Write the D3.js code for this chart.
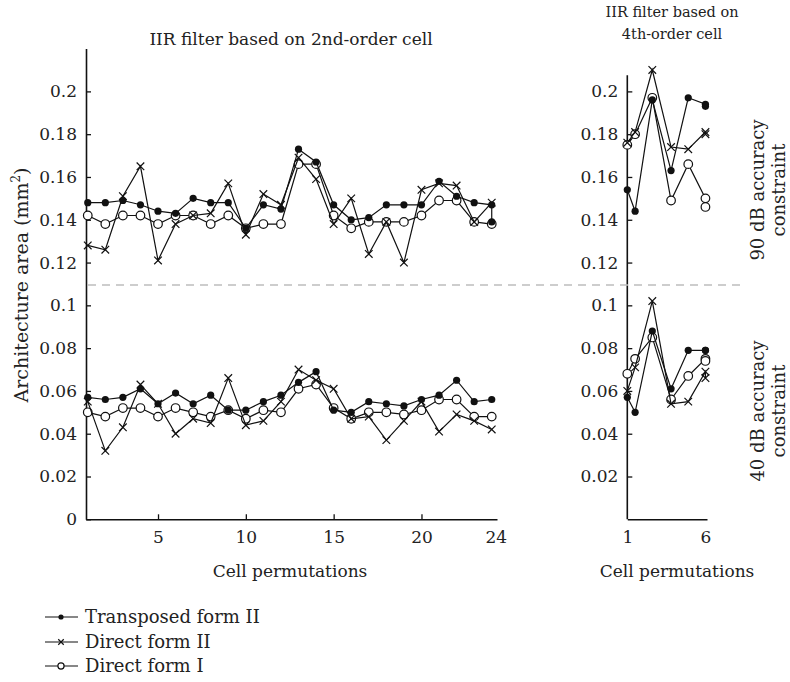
<!DOCTYPE html>
<html>
<head>
<meta charset="utf-8">
<script src="https://cdn.jsdelivr.net/npm/d3@7"></script>
<style>
  html, body { margin: 0; padding: 0; background: #fff; }
  svg { display: block; }
  text { font-family: "DejaVu Serif", "Liberation Serif", serif; fill: #222; }
</style>
</head>
<body>
<svg id="chart" width="790" height="682"></svg>
<script>
// ---------------- DATA ----------------
const leftX = [1,2,3,4,5,6,7,8,9,10,11,12,13,14,15,16,17,18,19,20,21,22,23,24];
const leftXExtra = [1,2,3,4,5,6,7,8,9,10,11,12,13,14,15,16,17,18,19,20,21,22,23,24,24];

// 90 dB accuracy (upper group), 2nd-order cell
const tfTopLeft  = [0.148,0.148,0.149,0.147,0.144,0.143,0.150,0.148,0.148,0.136,0.147,0.145,0.173,0.167,0.147,0.140,0.141,0.147,0.147,0.147,0.158,0.151,0.148,0.147,0.139];
const df2TopLeft = [0.128,0.126,0.151,0.165,0.121,0.138,0.142,0.143,0.157,0.133,0.152,0.147,0.169,0.159,0.138,0.150,0.124,0.139,0.120,0.154,0.157,0.156,0.139,0.148];
const df1TopLeft = [0.142,0.138,0.142,0.142,0.138,0.142,0.142,0.138,0.142,0.136,0.138,0.138,0.166,0.166,0.142,0.136,0.139,0.139,0.139,0.142,0.149,0.149,0.139,0.138];

// 40 dB accuracy (lower group), 2nd-order cell
const tfBotLeft  = [0.057,0.056,0.057,0.061,0.054,0.059,0.054,0.058,0.051,0.051,0.055,0.058,0.064,0.069,0.051,0.050,0.055,0.054,0.053,0.056,0.058,0.065,0.055,0.056];
const df2BotLeft = [0.055,0.032,0.043,0.063,0.054,0.040,0.047,0.045,0.066,0.044,0.046,0.055,0.070,0.065,0.061,0.047,0.048,0.037,0.046,0.055,0.041,0.049,0.046,0.042];
const df1BotLeft = [0.050,0.048,0.052,0.052,0.048,0.052,0.050,0.048,0.051,0.047,0.051,0.050,0.061,0.063,0.052,0.047,0.050,0.050,0.049,0.051,0.056,0.056,0.048,0.048];

// 4th-order cell
const rightX = [1,1.5,2.6,3.8,4.9,6,6];
const tfTopRight  = [0.154,0.144,0.196,0.163,0.197,0.194,0.193];
const df2TopRight = [0.176,0.181,0.210,0.174,0.173,0.181,0.180];
const df1TopRight = [0.175,0.180,0.197,0.149,0.166,0.150,0.146];
const tfBotRight  = [0.057,0.050,0.088,0.061,0.079,0.079,0.079];
const df2BotRight = [0.060,0.071,0.102,0.054,0.055,0.069,0.066];
const df1BotRight = [0.068,0.075,0.085,0.056,0.067,0.075,0.074];

const leftYTicks  = [0,0.02,0.04,0.06,0.08,0.1,0.12,0.14,0.16,0.18,0.2];
const rightYTicks = [0.02,0.04,0.06,0.08,0.1,0.12,0.14,0.16,0.18,0.2];
const leftXTicks  = [5,10,15,20,24];
const rightXTicks = [1,6];
const separator = 0.1095;

const seriesNames = ["Transposed form II","Direct form II","Direct form I"];
const seriesMarks = ["dot","cross","circle"];

// ---------------- DRAW ----------------
const FONT = '"DejaVu Serif", "Liberation Serif", serif';
const svg = d3.select("#chart");
const y = d3.scaleLinear().domain([0, 0.22]).range([519.3, 48.6]);
const yR = d3.scaleLinear().domain([0, 0.22]).range([519.3, 48.6]);
const xL = d3.scaleLinear().domain([0.9, 24.3]).range([86, 497]);
const xR = d3.scaleLinear().domain([1, 6.1]).range([627.3, 707]);
const fmt = d => d === 0 ? "0" : String(+d.toFixed(2));
const FS = 17;

// left y axis
const gYL = svg.append("g").attr("transform", `translate(${xL(0.9)},0)`)
  .call(d3.axisLeft(y).tickValues(leftYTicks).tickFormat(fmt).tickSizeInner(-5).tickSizeOuter(0).tickPadding(9));
// right y axis
const gYR = svg.append("g").attr("transform", `translate(${xR(1)},0)`)
  .call(d3.axisLeft(yR).tickValues(rightYTicks).tickFormat(fmt).tickSizeInner(-5).tickSizeOuter(0).tickPadding(9));
gYR.select(".domain").attr("d", `M0,${yR(0)}V${yR(0.2075)}`);
// left x axis
const gXL = svg.append("g").attr("transform", `translate(0,${y(0)})`)
  .call(d3.axisBottom(xL).tickValues(leftXTicks).tickFormat(d3.format("d")).tickSizeInner(-5).tickSizeOuter(0).tickPadding(12));
gXL.selectAll(".tick").filter(d => d === 24).select("line").remove();
gXL.selectAll(".tick").filter(d => d === 24).select("text").attr("dx", 4);
// right x axis
const gXR = svg.append("g").attr("transform", `translate(0,${y(0)})`)
  .call(d3.axisBottom(xR).tickValues(rightXTicks).tickFormat(d3.format("d")).tickSizeInner(0).tickSizeOuter(0).tickPadding(12));

[gYL, gYR, gXL, gXR].forEach(g => {
  g.attr("font-family", FONT);
  g.selectAll(".domain").attr("stroke", "#111").attr("stroke-width", 1.6);
  g.selectAll(".tick line").attr("stroke", "#111").attr("stroke-width", 1.3);
  g.selectAll("text").attr("font-size", FS).attr("fill", "#222");
});

// separator dashed line
svg.append("line")
  .attr("x1", xL(0.9) + 2).attr("x2", 746)
  .attr("y1", y(separator)).attr("y2", y(separator))
  .attr("stroke", "#bdbdbd").attr("stroke-width", 1.6).attr("stroke-dasharray", "8,6");

function drawMarker(g, type, cx, cy, k) {
  k = k || 1;
  if (type === "dot") {
    g.append("circle").attr("cx", cx).attr("cy", cy).attr("r", 3.6 * k).attr("fill", "#111");
  } else if (type === "circle") {
    g.append("circle").attr("cx", cx).attr("cy", cy).attr("r", 4.3 * k).attr("fill", "#fff").attr("stroke", "#111").attr("stroke-width", 1.2);
  } else {
    const s = 3.8 * k;
    g.append("path").attr("d", `M${cx-s},${cy-s}L${cx+s},${cy+s}M${cx-s},${cy+s}L${cx+s},${cy-s}`)
      .attr("stroke", "#111").attr("stroke-width", 1.2).attr("fill", "none");
  }
}

function drawSeries(xs, vals, xScale, yScale, type) {
  const g = svg.append("g");
  const pts = vals.map((v, i) => [xScale(xs[i]), yScale(v)]);
  g.append("path").attr("d", d3.line()(pts)).attr("fill", "none").attr("stroke", "#111").attr("stroke-width", 1.2);
  pts.forEach(p => drawMarker(g, type, p[0], p[1]));
}

// draw order: circles, crosses, dots (dots on top)
drawSeries(leftX, df1TopLeft, xL, y, "circle");
drawSeries(leftX, df1BotLeft, xL, y, "circle");
drawSeries(rightX, df1TopRight, xR, yR, "circle");
drawSeries(rightX, df1BotRight, xR, yR, "circle");
drawSeries(leftX, df2TopLeft, xL, y, "cross");
drawSeries(leftX, df2BotLeft, xL, y, "cross");
drawSeries(rightX, df2TopRight, xR, yR, "cross");
drawSeries(rightX, df2BotRight, xR, yR, "cross");
drawSeries(leftXExtra, tfTopLeft, xL, y, "dot");
drawSeries(leftX, tfBotLeft, xL, y, "dot");
drawSeries(rightX, tfTopRight, xR, yR, "dot");
drawSeries(rightX, tfBotRight, xR, yR, "dot");

// titles
svg.append("text").attr("x", 291).attr("y", 45).attr("text-anchor", "middle").attr("font-size", 17)
  .text("IIR filter based on 2nd-order cell");
svg.append("text").attr("x", 672).attr("y", 17).attr("text-anchor", "middle").attr("font-size", 14.5)
  .text("IIR filter based on");
svg.append("text").attr("x", 672).attr("y", 39).attr("text-anchor", "middle").attr("font-size", 14.5)
  .text("4th-order cell");

// x axis titles
const LS = 17;
svg.append("text").attr("x", 290).attr("y", 577).attr("text-anchor", "middle").attr("font-size", LS)
  .text("Cell permutations");
svg.append("text").attr("x", 677).attr("y", 577).attr("text-anchor", "middle").attr("font-size", LS)
  .text("Cell permutations");

// y axis title
const yt = svg.append("text").attr("transform", "translate(28,285) rotate(-90)").attr("text-anchor", "middle").attr("font-size", 19);
yt.append("tspan").text("Architecture area (mm");
yt.append("tspan").attr("font-size", 12).attr("dy", -8).text("2");
yt.append("tspan").attr("dy", 8).text(")");

// right side constraint labels
function sideLabel(cy, l1) {
  svg.append("text").attr("transform", `translate(764,${cy}) rotate(-90)`).attr("text-anchor", "middle").attr("font-size", 18).text(l1);
  svg.append("text").attr("transform", `translate(785,${cy}) rotate(-90)`).attr("text-anchor", "middle").attr("font-size", 18).text("constraint");
}
sideLabel(190, "90 dB accuracy");
sideLabel(411, "40 dB accuracy");

// legend
const legRows = [617, 642, 666];
seriesNames.forEach((name, i) => {
  const g = svg.append("g");
  g.append("line").attr("x1", 45).attr("x2", 78).attr("y1", legRows[i]).attr("y2", legRows[i]).attr("stroke", "#111").attr("stroke-width", 1.2);
  drawMarker(g, seriesMarks[i], 61, legRows[i], 0.72);
  g.append("text").attr("x", 85).attr("y", legRows[i] + 6).attr("font-size", 18).text(name);
});
</script>
</body>
</html>
